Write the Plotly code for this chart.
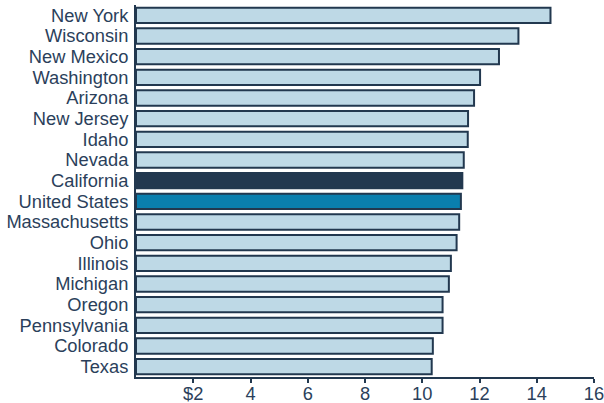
import plotly.graph_objects as go

states = ["New York", "Wisconsin", "New Mexico", "Washington", "Arizona",
          "New Jersey", "Idaho", "Nevada", "California", "United States",
          "Massachusetts", "Ohio", "Illinois", "Michigan", "Oregon",
          "Pennsylvania", "Colorado", "Texas"]
values = [14.48, 13.36, 12.68, 12.02, 11.81, 11.60, 11.59, 11.45, 11.40,
          11.35, 11.29, 11.20, 11.00, 10.93, 10.71, 10.71, 10.37, 10.33]
tick_vals = [2, 4, 6, 8, 10, 12, 14, 16]
tick_text = ["$2", "4", "6", "8", "10", "12", "14", "16"]

LIGHT = "#BED9E6"
NAVY = "#22384F"
BLUE = "#0A7FAE"
TEXT = "#2B3F5B"
FONT = "Liberation Sans"

colors = []
for s in states:
    if s == "California":
        colors.append(NAVY)
    elif s == "United States":
        colors.append(BLUE)
    else:
        colors.append(LIGHT)

fig = go.Figure(go.Bar(
    x=values, y=states, orientation="h",
    marker=dict(color=colors, line=dict(color=NAVY, width=2)),
    hoverinfo="skip",
))

fig.update_layout(
    width=604, height=403,
    margin=dict(l=136, r=10, t=5, b=26),
    paper_bgcolor="white", plot_bgcolor="white",
    bargap=0.26,
    showlegend=False,
    font=dict(family=FONT, size=18.3, color=TEXT),
)
fig.update_xaxes(
    range=[0, 16], tickmode="array", tickvals=tick_vals, ticktext=tick_text,
    showgrid=False, zeroline=False, automargin=False,
    showline=True, linecolor=NAVY, linewidth=2,
    ticks="outside", ticklen=4, tickwidth=2, tickcolor=NAVY,
    ticklabelstandoff=-5, ticklabeloverflow="allow",
    tickfont=dict(family=FONT, size=18.3, color=TEXT),
)
fig.update_yaxes(
    range=[17.5, -0.5], type="category",
    tickmode="array", tickvals=states, ticktext=states,
    showgrid=False, zeroline=False, automargin=False,
    showline=True, linecolor=NAVY, linewidth=2,
    ticks="", ticklabelstandoff=2,
    tickfont=dict(family=FONT, size=18.3, color=TEXT),
)

fig.write_html(
    "out.html",
    config={"displayModeBar": False},
    post_script="document.body.style.margin='0';document.body.style.overflow='hidden';",
)
